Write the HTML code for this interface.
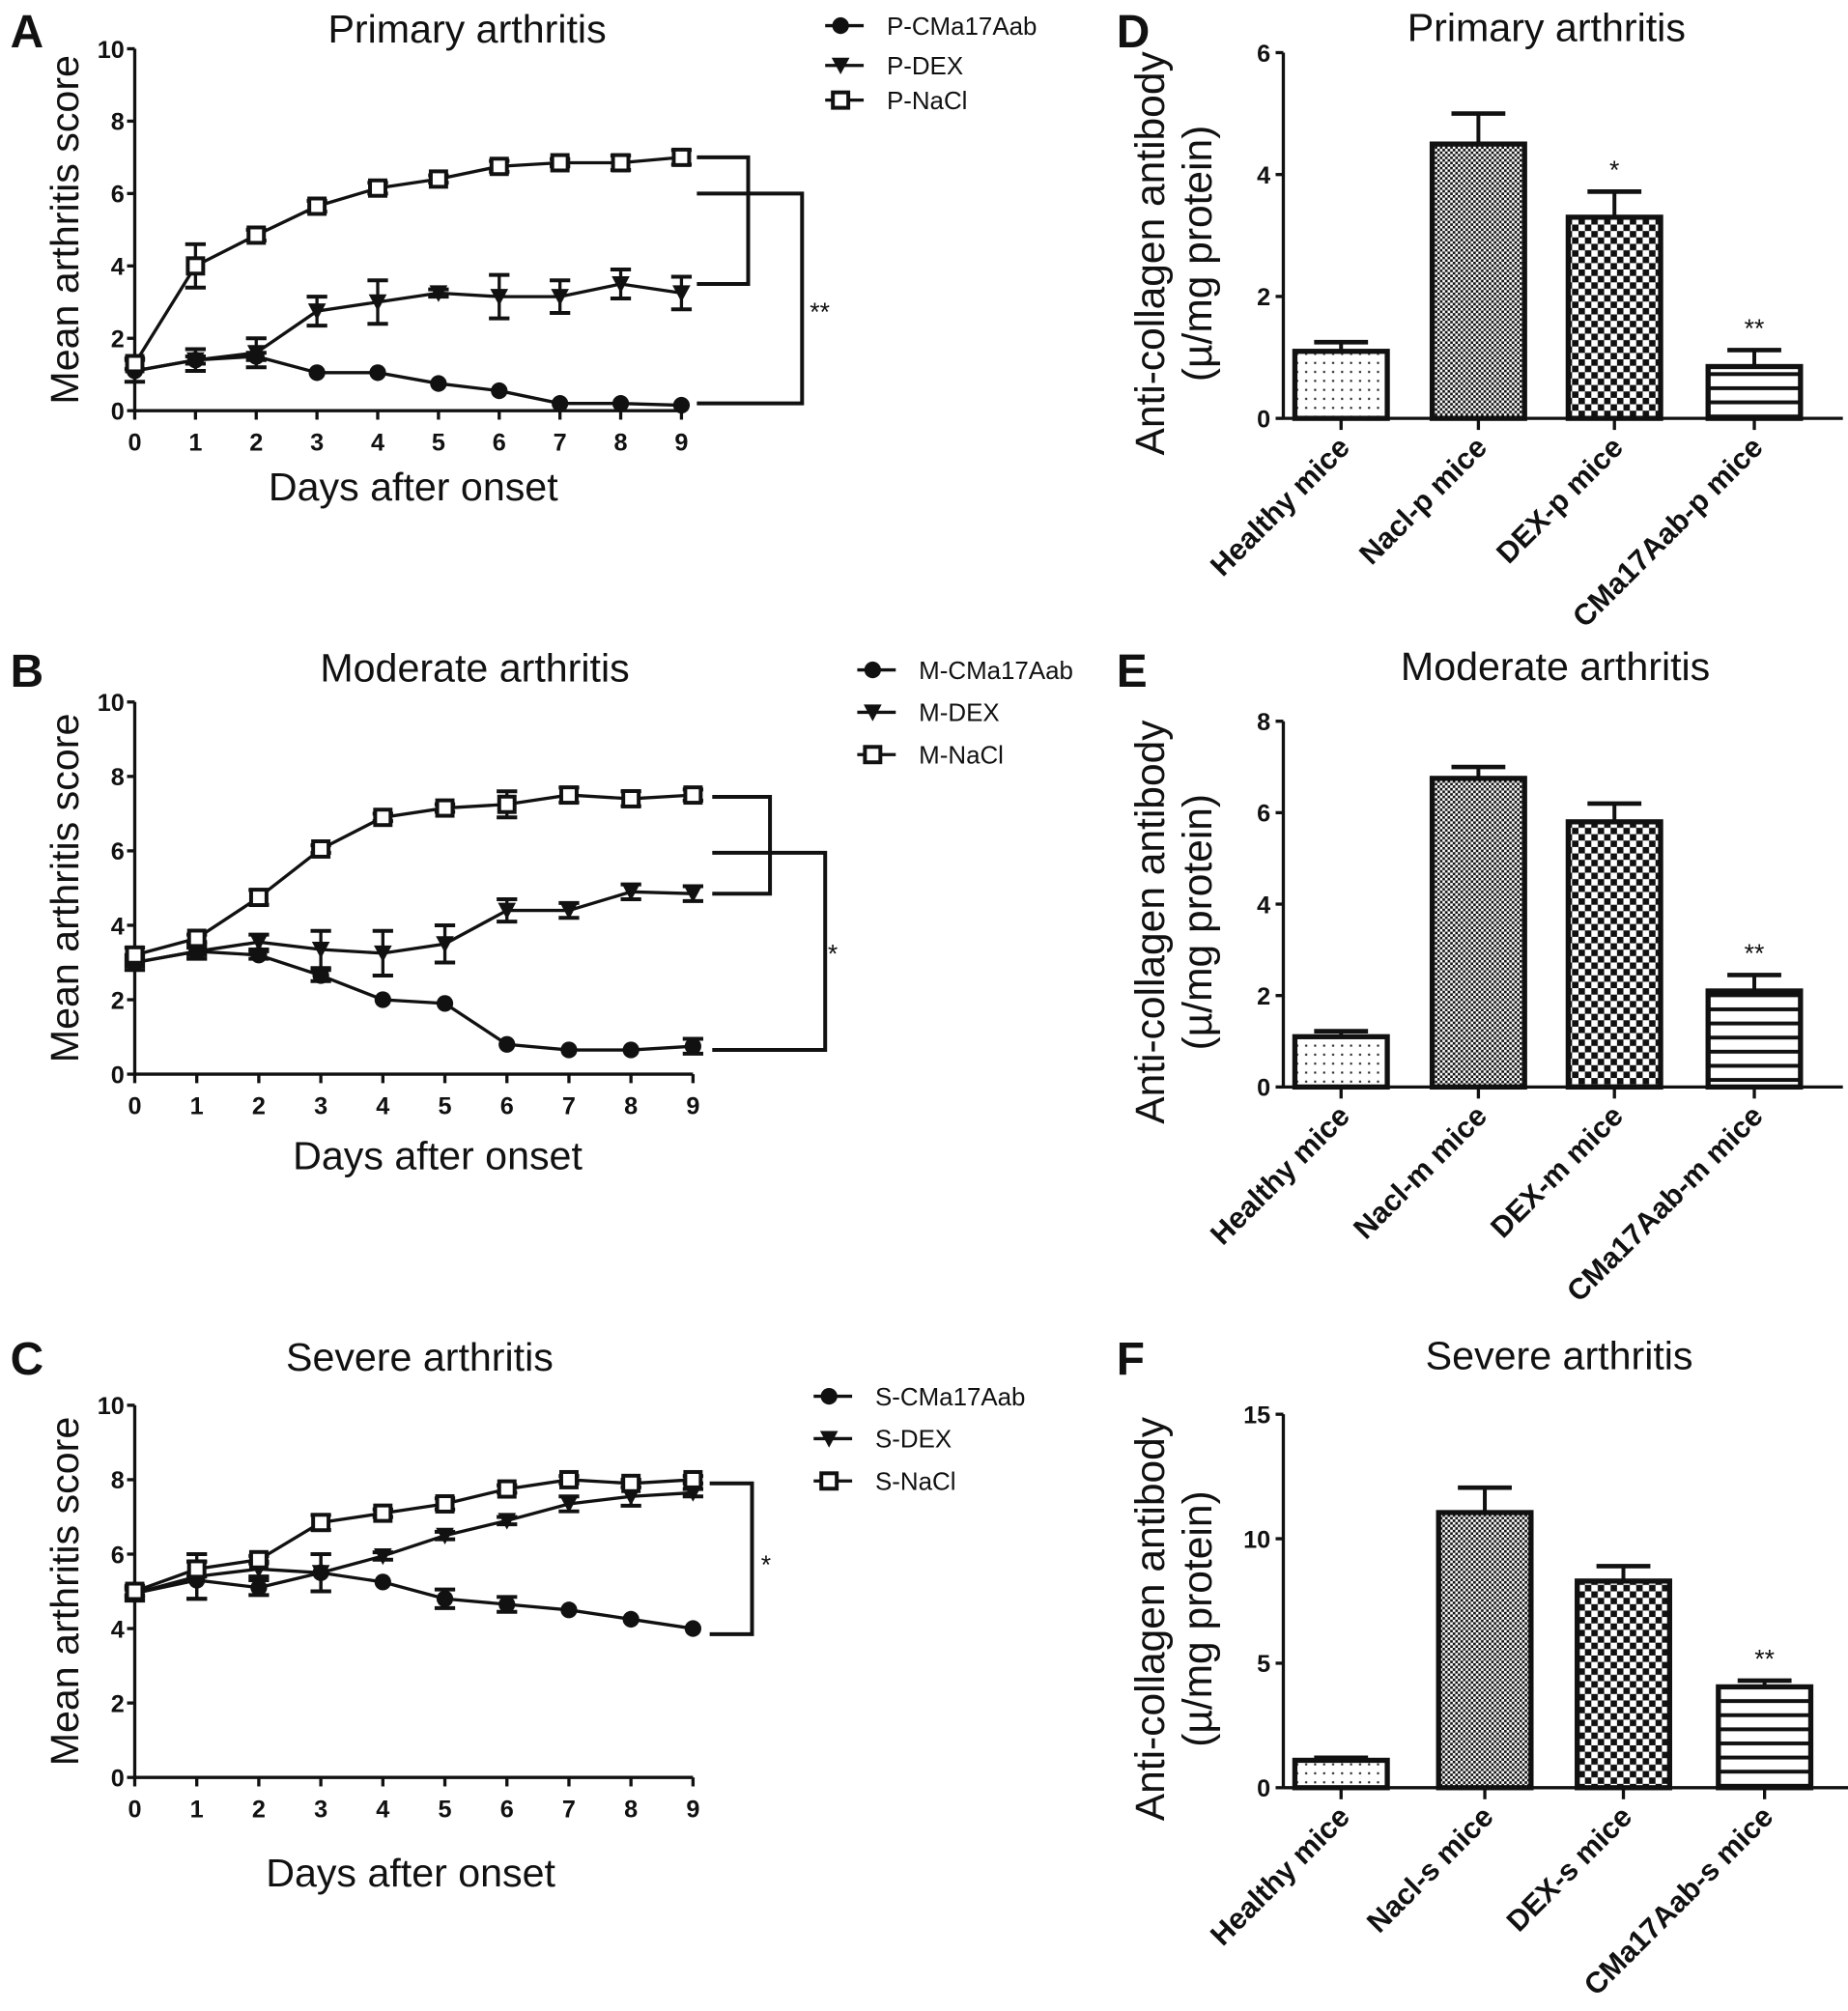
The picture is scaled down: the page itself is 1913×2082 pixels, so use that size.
<!DOCTYPE html>
<html><head><meta charset="utf-8"><style>
html,body{margin:0;padding:0;background:#fff;}
svg{display:block;font-family:"Liberation Sans",Arial,sans-serif;}
</style></head><body>
<svg id="fig" width="1913" height="2082" viewBox="0 0 1440 1567" preserveAspectRatio="none" xmlns="http://www.w3.org/2000/svg">
<defs>
<pattern id="pDots" width="7" height="7" patternUnits="userSpaceOnUse"><rect width="7" height="7" fill="#fff"/><rect x="2" y="2" width="1.6" height="1.6" fill="#222"/></pattern>
<pattern id="pFine" width="4" height="4" patternUnits="userSpaceOnUse"><rect width="4" height="4" fill="#fff"/><rect width="2" height="2" fill="#111"/><rect x="2" y="2" width="2" height="2" fill="#111"/></pattern>
<pattern id="pCoarse" width="10" height="10" patternUnits="userSpaceOnUse"><rect width="10" height="10" fill="#fff"/><rect width="5" height="5" fill="#111"/><rect x="5" y="5" width="5" height="5" fill="#111"/></pattern>
<pattern id="pLines" width="10" height="11" patternUnits="userSpaceOnUse"><rect width="10" height="11" fill="#fff"/><rect y="4" width="10" height="3" fill="#111"/></pattern>
</defs>
</svg>
<script>
// ---- line chart data ----
const days = [0,1,2,3,4,5,6,7,8,9];
const pCMa = [1.1,1.4,1.5,1.05,1.05,0.75,0.55,0.2,0.2,0.15];
const pCMaErr = [0.05,0.1,0.1,0.05,0.05,0.05,0.05,0.05,0.05,0.05];
const pDEX = [1.1,1.4,1.6,2.75,3.0,3.25,3.15,3.15,3.5,3.25];
const pDEXErr = [0.3,0.3,0.4,0.4,0.6,0.1,0.6,0.45,0.4,0.45];
const pNaCl = [1.3,4.0,4.85,5.65,6.15,6.4,6.75,6.85,6.85,7.0];
const pNaClErr = [0.15,0.6,0.15,0.15,0.15,0.1,0.15,0.1,0.2,0.2];
const mCMa = [3.0,3.3,3.2,2.65,2.0,1.9,0.8,0.65,0.65,0.75];
const mCMaErr = [0.1,0.1,0.1,0.15,0.05,0.05,0.05,0.05,0.05,0.2];
const mDEX = [3.0,3.3,3.55,3.35,3.25,3.5,4.4,4.4,4.9,4.85];
const mDEXErr = [0.2,0.2,0.2,0.5,0.6,0.5,0.3,0.2,0.2,0.2];
const mNaCl = [3.2,3.65,4.75,6.05,6.9,7.15,7.25,7.5,7.4,7.5];
const mNaClErr = [0.2,0.1,0.2,0.1,0.1,0.1,0.35,0.2,0.2,0.15];
const sCMa = [4.95,5.3,5.1,5.5,5.25,4.8,4.65,4.5,4.25,4.0];
const sCMaErr = [0.1,0.5,0.2,0.5,0.05,0.25,0.2,0.05,0.05,0.05];
const sDEX = [4.95,5.4,5.6,5.5,5.95,6.5,6.9,7.35,7.55,7.65];
const sDEXErr = [0.2,0.6,0.2,0.5,0.1,0.1,0.1,0.2,0.25,0.1];
const sNaCl = [5.0,5.6,5.85,6.85,7.1,7.35,7.75,8.0,7.9,8.0];
const sNaClErr = [0.1,0.2,0.1,0.2,0.1,0.15,0.1,0.1,0.1,0.1];
const lineYTicks = [0,2,4,6,8,10];
// ---- bar chart data ----
const dCats = ["Healthy mice","Nacl-p mice","DEX-p mice","CMa17Aab-p mice"];
const dVals = [1.1,4.5,3.3,0.85];
const dErr = [0.15,0.5,0.42,0.27];
const dTicks = [0,2,4,6];
const eCats = ["Healthy mice","Nacl-m mice","DEX-m mice","CMa17Aab-m mice"];
const eVals = [1.1,6.75,5.8,2.1];
const eErr = [0.12,0.25,0.4,0.35];
const eTicks = [0,2,4,6,8];
const fCats = ["Healthy mice","Nacl-s mice","DEX-s mice","CMa17Aab-s mice"];
const fVals = [1.1,11.05,8.3,4.05];
const fErr = [0.1,1.0,0.6,0.25];
const fTicks = [0,5,10,15];

const NS = "http://www.w3.org/2000/svg";
const svg = document.getElementById('fig');
function mk(tag, attrs, parent){
  const el = document.createElementNS(NS, tag);
  for (const k in attrs) el.setAttribute(k, attrs[k]);
  (parent||svg).appendChild(el);
  return el;
}
function txt(s, attrs, parent){ const t = mk('text', attrs, parent); t.textContent = s; return t; }

function marker(g, kind, x, y){
  let m;
  if (kind==='circle') m = mk('circle',{cx:x,cy:y,r:6.5,fill:'#111'},g);
  else if (kind==='tri') m = mk('polygon',{points:(x-7)+','+(y-6)+' '+(x+7)+','+(y-6)+' '+x+','+(y+7),fill:'#111'},g);
  else m = mk('rect',{x:x-6,y:y-6,width:12,height:12,fill:'#fff',stroke:'#111','stroke-width':3},g);
  return m;
}

function linePanel(cfg){
  const g = mk('g',{});
  
  
  const X = d => cfg.x0 + (cfg.x9 - cfg.x0) * d / 9;
  const Y = v => cfg.y0 - (cfg.y0 - cfg.y10) * v / 10;
  const letter = txt(cfg.letter,{x:8,y:cfg.letterY,'font-size':36,'font-weight':'bold',fill:'#111'},g);
  
  
  const title = txt(cfg.title,{x:cfg.titleX,y:cfg.titleY,'font-size':31,'text-anchor':'middle',fill:'#111'},g);
  
  
  const yAxis = mk('line',{x1:cfg.x0,y1:cfg.y10,x2:cfg.x0,y2:cfg.y0,stroke:'#111','stroke-width':2.5},g);
  
  
  const xAxis = mk('line',{x1:cfg.x0,y1:cfg.y0,x2:cfg.x9,y2:cfg.y0,stroke:'#111','stroke-width':2.5},g);
  
  
  lineYTicks.forEach(v=>{
    mk('line',{x1:cfg.x0-6,y1:Y(v),x2:cfg.x0,y2:Y(v),stroke:'#111','stroke-width':2.5},g);
    const t = txt(String(v),{x:cfg.x0-8,y:Y(v)+7,'font-size':19,'font-weight':'bold','text-anchor':'end',fill:'#111'},g);
    
    
  });
  days.forEach(d=>{
    mk('line',{x1:X(d),y1:cfg.y0,x2:X(d),y2:cfg.y0+7,stroke:'#111','stroke-width':2.5},g);
    const t = txt(String(d),{x:X(d),y:cfg.y0+31,'font-size':19,'font-weight':'bold','text-anchor':'middle',fill:'#111'},g);
    
    
  });
  const yt = txt('Mean arthritis score',{x:0,y:0,'font-size':31,'text-anchor':'middle',fill:'#111',transform:'translate('+(cfg.x0-44)+','+((cfg.y0+cfg.y10)/2)+') rotate(-90)'},g);
  
  
  const xt = txt('Days after onset',{x:cfg.xtX,y:cfg.xtY,'font-size':31,'text-anchor':'middle',fill:'#111'},g);
  
  
  cfg.series.forEach((s,si)=>{
    const sg = mk('g',{},g);
    
    
    const pts = days.map((d,i)=>X(d)+','+Y(s.vals[i])).join(' ');
    mk('polyline',{points:pts,fill:'none',stroke:'#111','stroke-width':2.5},sg);
    days.forEach((d,i)=>{
      const e = s.err[i];
      if (e > 0.08){
        mk('line',{x1:X(d),y1:Y(s.vals[i]+e),x2:X(d),y2:Y(s.vals[i]-e),stroke:'#111','stroke-width':2.5},sg);
        mk('line',{x1:X(d)-8,y1:Y(s.vals[i]+e),x2:X(d)+8,y2:Y(s.vals[i]+e),stroke:'#111','stroke-width':3},sg);
        mk('line',{x1:X(d)-8,y1:Y(s.vals[i]-e),x2:X(d)+8,y2:Y(s.vals[i]-e),stroke:'#111','stroke-width':3},sg);
      }
      const m = marker(sg, s.kind, X(d), Y(s.vals[i]));
      
      
    });
    const ly = cfg.legY[si];
    const le = mk('g',{},g);
    
    
    mk('line',{x1:cfg.legX,y1:ly,x2:cfg.legX+30,y2:ly,stroke:'#111','stroke-width':2.5},le);
    marker(le, s.kind, cfg.legX+12, ly);
    txt(s.label,{x:cfg.legX+48,y:ly+7,'font-size':19.5,fill:'#111'},le);
  });
  const br = mk('g',{},g);
  
  
  cfg.brackets.forEach(b=>{
    mk('polyline',{points:b.x1+','+Y(b.top)+' '+b.x2+','+Y(b.top)+' '+b.x2+','+Y(b.bot)+' '+b.x1+','+Y(b.bot),fill:'none',stroke:'#111','stroke-width':3},br);
  });
  const st = txt(cfg.star,{x:cfg.starX,y:cfg.starY,'font-size':20,fill:'#111'},g);
  
  
}

linePanel({name:'panel-a-primary-line-chart',letter:'A',letterY:37,title:'Primary arthritis',titleX:364,titleY:33,
  x0:105,x9:531,y0:320,y10:38,xtX:322,xtY:390,legX:643,legY:[20,51,78],
  series:[{label:'P-CMa17Aab',kind:'circle',vals:pCMa,err:pCMaErr},{label:'P-DEX',kind:'tri',vals:pDEX,err:pDEXErr},{label:'P-NaCl',kind:'sq',vals:pNaCl,err:pNaClErr}],
  brackets:[{x1:543,x2:583,top:pNaCl[9],bot:pDEX[8]},{x1:543,x2:625,top:6.0,bot:0.2}],star:'**',starX:631,starY:250});
linePanel({name:'panel-b-moderate-line-chart',letter:'B',letterY:535,title:'Moderate arthritis',titleX:370,titleY:531,
  x0:105,x9:540,y0:837,y10:547,xtX:341,xtY:911,legX:668,legY:[522,555,588],
  series:[{label:'M-CMa17Aab',kind:'circle',vals:mCMa,err:mCMaErr},{label:'M-DEX',kind:'tri',vals:mDEX,err:mDEXErr},{label:'M-NaCl',kind:'sq',vals:mNaCl,err:mNaClErr}],
  brackets:[{x1:555,x2:600,top:7.45,bot:4.85},{x1:555,x2:643,top:5.95,bot:0.65}],star:'*',starX:645,starY:750});
linePanel({name:'panel-c-severe-line-chart',letter:'C',letterY:1071,title:'Severe arthritis',titleX:327,titleY:1068,
  x0:105,x9:540,y0:1385,y10:1095,xtX:320,xtY:1470,legX:634,legY:[1088,1121,1154],
  series:[{label:'S-CMa17Aab',kind:'circle',vals:sCMa,err:sCMaErr},{label:'S-DEX',kind:'tri',vals:sDEX,err:sDEXErr},{label:'S-NaCl',kind:'sq',vals:sNaCl,err:sNaClErr}],
  brackets:[{x1:553,x2:586,top:7.9,bot:3.85}],star:'*',starX:593,starY:1226});

function barPanel(cfg){
  const g = mk('g',{});
  
  
  const ymax = cfg.ticks[cfg.ticks.length-1];
  const Y = v => cfg.y0 - (cfg.y0 - cfg.ytop) * v / ymax;
  const letter = txt(cfg.letter,{x:870,y:cfg.letterY,'font-size':36,'font-weight':'bold',fill:'#111'},g);
  
  
  const title = txt(cfg.title,{x:cfg.titleX,y:cfg.titleY,'font-size':31,'text-anchor':'middle',fill:'#111'},g);
  
  
  const cy = (cfg.y0+cfg.ytop)/2 + 14;
  const yt1 = txt('Anti-collagen antibody',{x:0,y:0,'font-size':32,'text-anchor':'middle',fill:'#111',transform:'translate(907,'+cy+') rotate(-90)'},g);
  
  
  const yt2 = txt('(\u00b5/mg protein)',{x:0,y:0,'font-size':32,'text-anchor':'middle',fill:'#111',transform:'translate(944,'+cy+') rotate(-90)'},g);
  
  
  const pats = ['url(#pDots)','url(#pFine)','url(#pCoarse)','url(#pLines)'];
  cfg.vals.forEach((v,i)=>{
    const cx = cfg.xs[i];
    const bg = mk('g',{},g);
    
    
    const top = Y(v+cfg.err[i]);
    mk('line',{x1:cx,y1:top,x2:cx,y2:Y(v),stroke:'#111','stroke-width':3},bg);
    mk('line',{x1:cx-21,y1:top,x2:cx+21,y2:top,stroke:'#111','stroke-width':3.5},bg);
    mk('rect',{x:cx-36,y:Y(v),width:72,height:cfg.y0-Y(v),fill:pats[i],stroke:'#111','stroke-width':4},bg);
    mk('line',{x1:cx,y1:cfg.y0,x2:cx,y2:cfg.y0+9,stroke:'#111','stroke-width':2.5},bg);
    const lb = txt(cfg.cats[i],{x:0,y:0,'font-size':23,'font-weight':'bold','text-anchor':'end',fill:'#111',transform:'translate('+(cx+8)+','+(cfg.y0+24)+') rotate(-45)'},g);
    
    
  });
  const yAxis = mk('line',{x1:cfg.x0,y1:cfg.ytop,x2:cfg.x0,y2:cfg.y0,stroke:'#111','stroke-width':2.5},g);
  
  
  const xAxis = mk('line',{x1:cfg.x0,y1:cfg.y0,x2:cfg.xEnd,y2:cfg.y0,stroke:'#111','stroke-width':2.5},g);
  
  
  cfg.ticks.forEach(v=>{
    mk('line',{x1:cfg.x0-6,y1:Y(v),x2:cfg.x0,y2:Y(v),stroke:'#111','stroke-width':2.5},g);
    const t = txt(String(v),{x:cfg.x0-10,y:Y(v)+7,'font-size':19,'font-weight':'bold','text-anchor':'end',fill:'#111'},g);
    
    
  });
  cfg.stars.forEach(s=>{
    const i = s[0];
    const st = txt(s[1],{x:cfg.xs[i],y:Y(cfg.vals[i]+cfg.err[i])-10,'font-size':20,'text-anchor':'middle',fill:'#111'},g);
    
    
  });
}

barPanel({name:'panel-d-primary-bar-chart',letter:'D',letterY:37,title:'Primary arthritis',titleX:1205,titleY:32,
  x0:1000,xEnd:1436,y0:326,ytop:41,xs:[1045,1152,1258,1367],cats:dCats,vals:dVals,err:dErr,ticks:dTicks,stars:[[2,'*'],[3,'**']]});
barPanel({name:'panel-e-moderate-bar-chart',letter:'E',letterY:535,title:'Moderate arthritis',titleX:1212,titleY:530,
  x0:1000,xEnd:1436,y0:847,ytop:562,xs:[1045,1152,1258,1367],cats:eCats,vals:eVals,err:eErr,ticks:eTicks,stars:[[3,'**']]});
barPanel({name:'panel-f-severe-bar-chart',letter:'F',letterY:1071,title:'Severe arthritis',titleX:1215,titleY:1067,
  x0:1000,xEnd:1440,y0:1393,ytop:1102,xs:[1045,1157,1265,1375],cats:fCats,vals:fVals,err:fErr,ticks:fTicks,stars:[[3,'**']]});
</script>
</body></html>
